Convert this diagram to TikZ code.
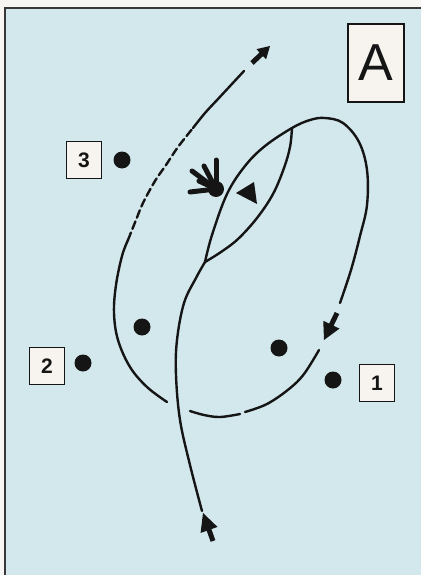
\documentclass[tikz,border=0pt]{standalone}
\usepackage{fontspec}
\setmainfont{Liberation Sans}
\usetikzlibrary{calc}
\definecolor{bg}{HTML}{D3E8EC}
\definecolor{ink}{HTML}{151515}
\definecolor{boxfill}{HTML}{F7F4F0}
\definecolor{paper}{HTML}{F8F6F2}
\tikzset{
  numbox/.style={draw=ink, line width=1.9pt, fill=boxfill, minimum width=35pt, minimum height=37pt, inner sep=0pt, font=\fontsize{21}{21}\selectfont\bfseries, text=ink},
  bigbox/.style={draw=ink, line width=1.9pt, fill=boxfill, minimum width=56pt, minimum height=78pt, inner sep=0pt, font=\fontsize{52}{52}\selectfont, text=ink},
  spot/.style={circle, fill=ink, minimum size=17pt, inner sep=0pt},
  path/.style={draw=ink, line width=2.4pt, line cap=round},
  finger/.style={draw=ink, line width=5pt, line cap=round},
}
% fat arrow: #1 tail, #2 tip, #3 head length, #4 half head width
\newcommand{\fatarrow}[4]{%
  \coordinate (fab) at ($(#2)!#3!(#1)$);
  \draw[ink, line width=5pt] (#1) -- ($(fab)!3pt!(#2)$);
  \fill[ink] (#2) -- ($(fab)!#4!90:(#2)$) -- ($(fab)!#4!-90:(#2)$) -- cycle;
}
\begin{document}
\begin{tikzpicture}[x=1pt, y=-1pt]
\useasboundingbox (0,0) rectangle (421,575);
% paper and background
\fill[paper] (0,0) rectangle (421,575);
\fill[bg] (5,8) rectangle (421,575);
\draw[ink!85, line width=1.5pt] (5,575) -- (5,8) -- (421,8);

% label boxes
\node[bigbox] (A) at (376,63) {A};
\node[numbox] (b3) at (84,160) {3};
\node[numbox] (b2) at (47,366) {2};
\node[numbox] (b1) at (377,383) {1};

% players / spots
\node[spot] (d3) at (122,160) {};
\node[spot] (d2) at (83,363) {};
\node[spot] (dl) at (142,327) {};
\node[spot] (dr) at (279,348) {};
\node[spot] (d1) at (333,380) {};

% incoming path from bottom to junction
\draw[path] plot[smooth, tension=0.6] coordinates {(202,511) (190,465) (180,420) (176,375) (177,340) (184,303) (196,278) (205,262)};
% leaf left side continuing into outer loop
\draw[path] plot[smooth, tension=0.6] coordinates {(205,262) (212,235) (227,194) (245,166) (265,146) (292,128) (310,120) (325,118) (343,123) (359,142) (367,170) (367,205) (360,236) (351,270) (340,303)};
% leaf right side
\draw[path] plot[smooth, tension=0.6] coordinates {(292,128) (290,147) (284,168) (273,194) (257,218) (238,239) (221,252) (205,262)};
% bottom arc
\draw[path] plot[smooth, tension=0.6] coordinates {(319,350) (304,374) (289,389) (267,404) (245,412)};
\draw[path] plot[smooth, tension=0.6] coordinates {(240,414) (220,417) (204,415) (190,411)};
% left side rising into the dashed exit
\draw[path] plot[smooth, tension=0.6] coordinates {(167,402) (147,387) (130,367) (118,340) (114,313) (116,285) (122,256) (128,240)};
\draw[path, dash pattern=on 8pt off 4pt] plot[smooth, tension=0.6] coordinates {(128,240) (136,220) (143,203) (155,181) (166,165) (178,147) (193,128)};
\draw[path] plot[smooth, tension=0.6] coordinates {(193,128) (205,113) (218,99) (231,85) (244,71)};

% arrows
\coordinate (t1) at (252,63); \coordinate (h1) at (270,46);
\coordinate (t2) at (337,313); \coordinate (h2) at (324,340);
\coordinate (t3) at (213,541); \coordinate (h3) at (203,513);
\fatarrow{t1}{h1}{12pt}{7pt}
\fatarrow{t2}{h2}{17pt}{9pt}
\fatarrow{t3}{h3}{18pt}{9pt}

% triangle marker
\fill[ink] (236,193) -- (254,182) -- (257,204) -- cycle;

% hand / splash symbol
\coordinate (hc) at (216,189);
\fill[ink] (hc) circle (8pt);
\draw[finger] (hc) -- (192,171);
\draw[finger] (hc) -- (204,166);
\draw[finger] (hc) -- (216,160);
\draw[finger] (hc) -- (190,192);
\draw[finger] (hc) -- (199,181);
\end{tikzpicture}
\end{document}
